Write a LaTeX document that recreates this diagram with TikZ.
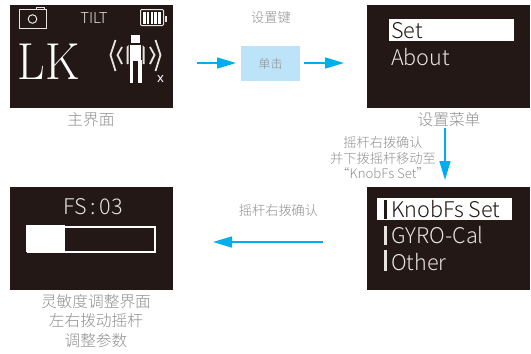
\documentclass[tikz,border=0pt]{standalone}
\usepackage{fontspec}
\setmainfont{Noto Sans CJK SC Light}
\newfontfamily\cjk{Noto Sans CJK SC Light}
\newfontfamily\serifx{Latin Modern Roman}
\newfontfamily\boldx{Noto Sans}
\definecolor{scr}{HTML}{231815}
\definecolor{cy}{HTML}{00AEEF}
\definecolor{lb}{HTML}{BDE3F8}
\definecolor{gt}{HTML}{8F8F8F}
\definecolor{lt}{HTML}{E6E3E0}
\usetikzlibrary{arrows.meta}
\tikzset{
 screen/.style={fill=scr,draw=none,minimum width=163pt,minimum height=103pt,inner sep=0,outer sep=0,anchor=north west},
 flow/.style={draw=cy,line width=1.5pt,-{Triangle[length=19pt,width=11pt]},shorten >=0pt},
 captxt/.style={text=gt,font=\cjk\fontsize{15.7}{19.3}\selectfont,align=center,inner sep=0},
 smalltxt/.style={text=gt,font=\cjk\fontsize{13.2}{15.5}\selectfont,align=center,inner sep=0},
 menu/.style={text=lt,font=\fontsize{21.6}{24}\selectfont,anchor=base west,inner sep=0},
 ln/.style={draw=lt,line width=1pt},
 thickline/.style={draw=lt,line width=1.8pt},
}
\begin{document}
\begin{tikzpicture}[x=1pt,y=-1pt]
\useasboundingbox (0,0) rectangle (531,354);
\node[screen] (s1) at (10,5) {};
\node[screen] (s2) at (367,5) {};
\node[screen] (s3) at (367,187) {};
\node[screen] (s4) at (10,187) {};
% s1
\draw[ln] (19.5,9.5) rectangle (46.5,28);
\draw[ln] (36,9.5) -- (36,7.5) -- (44,7.5) -- (44,9.5);
\draw[ln] (32.5,19) circle (4.3);
\node[text=lt,font=\fontsize{15}{15}\selectfont,inner sep=0] (tilt) at (94,18) {TILT};
\draw[ln,rounded corners=1pt] (140.5,9.5) rectangle (163.5,25.5);
\fill[lt] (165,15.5) rectangle (167,22);
\foreach \x in {143,146.8,150.6,154.4,158.2}{\fill[white] (\x,12) rectangle (\x+2.6,23.5);}
\node[text=white,font=\serifx\fontsize{52}{52}\selectfont,anchor=base west,inner sep=0] (lk) at (17.5,79.5) {\scalebox{0.92}[1]{LK}};
\fill[white] (131,35) rectangle (140,43);
\fill[white] (130,44.5) rectangle (141,61);
\fill[white] (129.5,60) rectangle (133,83);
\fill[white] (138,60) rectangle (141.5,83);
\fill[lt] (126.5,47) -- (128.5,45) -- (128.5,64) -- (126.5,64) -- cycle;
\fill[lt] (144.5,47) -- (142.5,45) -- (142.5,64) -- (144.5,64) -- cycle;
\draw[thickline] (115.5,40) -- (110.5,55) -- (115.5,71);
\draw[thickline] (122,47) -- (117.5,55) -- (122,64);
\draw[thickline] (155.5,40) -- (160.5,55) -- (155.5,71);
\draw[thickline] (150,47) -- (154.5,55) -- (150,64);
\node[text=white,font=\boldx\bfseries\fontsize{13}{13}\selectfont,anchor=base,inner sep=0] (xx) at (160.5,82) {x};
% s2
\fill[white] (388.5,19) rectangle (513.5,41);
\node[menu,text=scr] (set) at (391,38) {Set};
\node[menu] (about) at (391,65) {About};
% s3
\fill[white] (377,198) rectangle (512,220);
\fill[scr] (384,200) rectangle (387,219);
\node[menu,text=scr] (knob) at (391,217) {KnobFs Set};
\fill[lt] (384,226) rectangle (387,245);
\node[menu] (gyro) at (391,243.5) {GYRO-Cal};
\fill[lt] (384,250) rectangle (387,271);
\node[menu] (other) at (391,270.5) {Other};
% s4
\node[text=lt,font=\fontsize{21.6}{23}\selectfont,anchor=base,inner sep=0] (fs) at (93,214) {FS\,:\,03};
\node[draw=white,line width=2pt,fill=scr,minimum width=127pt,minimum height=25pt,inner sep=0,anchor=north west] (bar) at (26.5,225.5) {};
\fill[white] (26,225) rectangle (65,252);
% captions
\node[captxt] (c1) at (91,120) {主界面};
\node[captxt] (c2) at (449,120) {设置菜单};
\node[captxt] (c4) at (96,321) {灵敏度调整界面\\左右拨动摇杆\\调整参数};
\node[smalltxt] (t1) at (271,17) {设置键};
\node[smalltxt] (t2) at (383,158) {摇杆右拨确认\\并下拨摇杆移动至\\“KnobFs Set”};
\node[smalltxt] (t3) at (278.5,210) {摇杆右拨确认};
% box and connectors
\node[fill=lb,minimum width=59pt,minimum height=35pt,inner sep=0,text=gt,font=\cjk\fontsize{12.2}{14}\selectfont] (btn) at (270.5,63.5) {单击};
\coordinate (a1s) at (197,63);
\coordinate (a1e) at (236,63);
\coordinate (a2s) at (304,63);
\coordinate (a2e) at (344,63);
\coordinate (a3s) at (445,128);
\coordinate (a3e) at (445,180);
\coordinate (a4s) at (323,242);
\coordinate (a4e) at (213,242);
\draw[flow] (a1s) -- (a1e);
\draw[flow] (a2s) -- (a2e);
\draw[flow] (a3s) -- (a3e);
\draw[flow] (a4s) -- (a4e);
\end{tikzpicture}
\end{document}
